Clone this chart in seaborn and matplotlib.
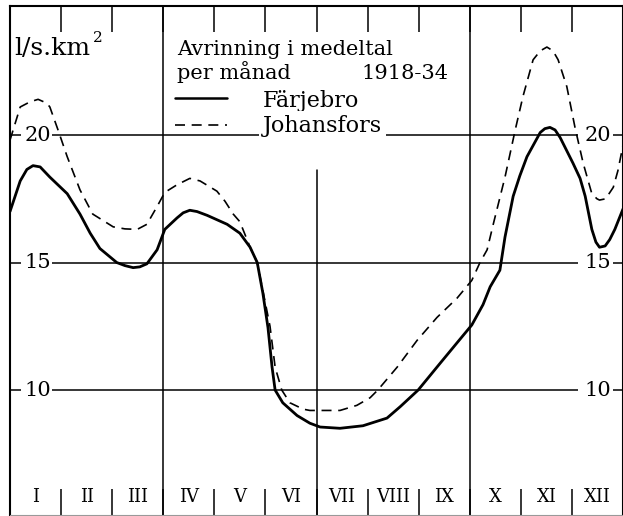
import numpy as np
import pandas as pd
import matplotlib.pyplot as plt
import seaborn as sns

# position in months (0 = start of Jan, 12 = end of Dec) and runoff in l/s.km2
farjebro_month = [0.00, 0.20, 0.33, 0.45, 0.59, 0.78, 1.12, 1.37, 1.57, 1.76,
                  2.09, 2.25, 2.41, 2.54, 2.68, 2.88, 3.03, 3.27, 3.39, 3.52,
                  3.66, 3.86, 4.25, 4.50, 4.70, 4.84, 4.95, 5.05, 5.13, 5.19,
                  5.34, 5.62, 5.87, 6.07, 6.46, 6.91, 7.38, 7.64, 7.99, 8.42,
                  8.75, 9.04, 9.26, 9.40, 9.59, 9.69, 9.85, 9.98, 10.12, 10.38,
                  10.47, 10.57, 10.67, 10.77, 11.02, 11.16, 11.26, 11.39, 11.47, 11.54,
                  11.65, 11.74, 11.84, 11.94, 12.00]
farjebro_flow = [17.0, 18.2, 18.65, 18.8, 18.75, 18.35, 17.7, 16.9, 16.15, 15.55,
                 15.0, 14.88, 14.8, 14.83, 14.95, 15.5, 16.3, 16.75, 16.95, 17.05,
                 17.0, 16.85, 16.5, 16.15, 15.6, 15.0, 13.8, 12.45, 10.9, 10.0,
                 9.5, 9.0, 8.7, 8.55, 8.5, 8.6, 8.9, 9.35, 10.0, 11.05,
                 11.85, 12.55, 13.35, 14.05, 14.7, 16.0, 17.6, 18.4, 19.15, 20.1,
                 20.25, 20.3, 20.2, 19.9, 18.9, 18.3, 17.6, 16.3, 15.8, 15.6,
                 15.65, 15.9, 16.3, 16.8, 17.1]

johansfors_month = [0.00, 0.20, 0.39, 0.55, 0.72, 0.78, 0.94, 1.12, 1.37, 1.62,
                    2.02, 2.25, 2.49, 2.68, 2.88, 3.03, 3.27, 3.52, 3.72, 4.05,
                    4.21, 4.37, 4.50, 4.70, 4.84, 4.95, 5.09, 5.19, 5.32, 5.48,
                    5.74, 5.87, 6.46, 6.79, 7.05, 7.20, 7.58, 7.97, 8.36, 8.75,
                    9.04, 9.20, 9.34, 9.46, 9.69, 9.89, 10.04, 10.24, 10.38, 10.51,
                    10.63, 10.73, 10.90, 11.06, 11.22, 11.39, 11.49, 11.54, 11.66, 11.81,
                    11.90, 12.00]
johansfors_flow = [19.8, 21.1, 21.3, 21.4, 21.25, 21.1, 20.2, 19.15, 17.85, 16.9,
                   16.4, 16.32, 16.3, 16.5, 17.2, 17.75, 18.05, 18.3, 18.2, 17.8,
                   17.4, 16.9, 16.6, 15.6, 15.0, 13.9, 12.5, 10.9, 10.0, 9.5,
                   9.25, 9.2, 9.2, 9.4, 9.7, 10.0, 10.9, 11.95, 12.85, 13.6,
                   14.3, 15.0, 15.5, 16.5, 18.35, 20.2, 21.5, 22.95, 23.3, 23.45,
                   23.3, 22.95, 21.9, 20.3, 18.9, 17.7, 17.5, 17.45, 17.5, 17.95,
                   18.6, 19.6]

months = ['I', 'II', 'III', 'IV', 'V', 'VI', 'VII', 'VIII', 'IX', 'X', 'XI', 'XII']
levels = [10, 15, 20]

sns.set_style("white")
plt.rcParams['font.family'] = ['DejaVu Serif', 'DejaVu Sans']
plt.rcParams['text.color'] = 'black'

W, H = 623, 516


def fx(px):
    return px / W


def fy(py):
    return 1 - py / H


fig = plt.figure(figsize=(W / 100, H / 100), dpi=100)
ax = fig.add_axes([fx(10), fy(515), (W - 10) / W, 509 / H])

df_f = pd.DataFrame({'month': farjebro_month, 'flow': farjebro_flow})
df_j = pd.DataFrame({'month': johansfors_month, 'flow': johansfors_flow})

sns.lineplot(data=df_f, x='month', y='flow', sort=False, color='black', lw=2.0,
             solid_joinstyle='round', solid_capstyle='round', ax=ax, zorder=4)
sns.lineplot(data=df_j, x='month', y='flow', sort=False, color='black', lw=1.2,
             ax=ax, zorder=4)
ax.lines[-1].set_dashes((6, 4))

ax.set_xlim(0, 12)
ax.set_ylim(5.1, 25.06)

# horizontal reference lines with labels sitting in gaps
for lv in levels:
    ax.hlines(lv, 0.82, 11.12, color='black', lw=1.1, zorder=2)
    ax.hlines(lv, 0, 0.22, color='black', lw=1.1, zorder=2)
    ax.hlines(lv, 11.8, 12, color='black', lw=1.1, zorder=2)
    ax.text(0.55, lv, str(lv), ha='center', va='center', fontsize=15)
    ax.text(11.5, lv, str(lv), ha='center', va='center', fontsize=15)

# quarter lines
ax.axvline(3, color='black', lw=1.1, zorder=2)
ax.axvline(9, color='black', lw=1.1, zorder=2)
ax.axvline(6, ymin=0, ymax=(515 - 170) / 509, color='black', lw=1.1, zorder=2)

# month ticks top and bottom
ax.set_xticks(range(1, 12))
ax.set_xticklabels([])
ax.set_yticks([])
ax.tick_params(axis='x', which='major', top=True, bottom=True, direction='in',
               length=19, width=1.1, color='black')
ax.set_xlabel('')
ax.set_ylabel('')

for i, m in enumerate(months):
    ax.text(i + 0.5, 0.035, m, transform=ax.get_xaxis_transform(),
            ha='center', va='center', fontsize=13)

for side in ['top', 'left', 'right']:
    ax.spines[side].set_color('black')
    ax.spines[side].set_linewidth(1.5)
ax.spines['bottom'].set_color('#999999')
ax.spines['bottom'].set_linewidth(0.8)

# unit and legend block
fig.text(fx(14), fy(55), 'l/s.km', fontsize=18, va='baseline')
fig.text(fx(93), fy(42), '2', fontsize=11, va='baseline')
fig.text(fx(177), fy(55), 'Avrinning i medeltal', fontsize=15, va='baseline')
fig.text(fx(177), fy(79), 'per månad', fontsize=15, va='baseline')
fig.text(fx(448), fy(79), '1918-34', fontsize=15, va='baseline', ha='right')
fig.text(fx(263), fy(107), 'Färjebro', fontsize=16, va='baseline')
fig.text(fx(263), fy(132), 'Johansfors', fontsize=16, va='baseline',
         bbox=dict(facecolor='white', edgecolor='none', pad=2.5), zorder=5)
fig.add_artist(plt.Line2D([fx(175), fx(227)], [fy(98), fy(98)], color='black', lw=1.8))
fig.add_artist(plt.Line2D([fx(175), fx(227)], [fy(125), fy(125)], color='black', lw=1.2,
                          dashes=(6, 4)))

fig.savefig('out.png', dpi=100)
